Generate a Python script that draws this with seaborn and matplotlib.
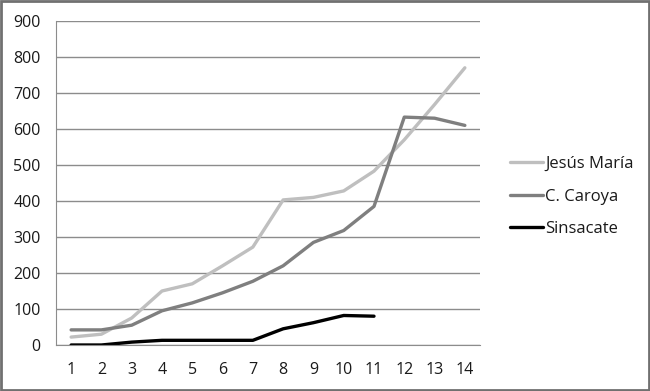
import matplotlib
matplotlib.use("Agg")
import matplotlib.pyplot as plt
import seaborn as sns
import pandas as pd
from matplotlib.patches import Rectangle
from matplotlib.lines import Line2D

periods = list(range(1, 15))
jesus_maria = [22, 30, 75, 150, 170, 220, 272, 403, 410, 428, 483, 570, 668, 770]
c_caroya = [42, 42, 55, 95, 117, 145, 177, 220, 285, 318, 385, 633, 630, 610]
sinsacate = [0, 0, 8, 13, 13, 13, 13, 45, 62, 82, 80]
series_names = ["Jesús María", "C. Caroya", "Sinsacate"]
y_ticks = [0, 100, 200, 300, 400, 500, 600, 700, 800, 900]

rows = []
for name, vals in zip(series_names, [jesus_maria, c_caroya, sinsacate]):
    for p, v in zip(periods, vals):
        rows.append({"x": p, "y": v, "serie": name})
df = pd.DataFrame(rows)

sns.set_style("white")
plt.rcParams['font.family'] = ['Open Sans', 'DejaVu Sans']

fig = plt.figure(figsize=(6.5, 3.91), dpi=100)
ax = fig.add_axes([56/650, 1-345/391, (480-56)/650, (345-21)/391])

palette = {"Jesús María": "#bfbfbf", "C. Caroya": "#7f7f7f", "Sinsacate": "#000000"}
sns.lineplot(data=df, x="x", y="y", hue="serie", palette=palette, linewidth=2.4,
             ax=ax, legend=False, sort=False)

ax.set_xlim(0.5, 14.5)
ax.set_ylim(0, 900)
ax.set_yticks(y_ticks)
ax.set_xticks(periods)
ax.set_xticks([i + 0.5 for i in range(0, 15)], minor=True)
ax.set_xlabel("")
ax.set_ylabel("")
ax.yaxis.grid(True, color="#8c8c8c", linewidth=1.0)
ax.set_axisbelow(True)
for s in ["top", "right"]:
    ax.spines[s].set_visible(False)
ax.spines["left"].set_color("#8c8c8c")
ax.spines["bottom"].set_color("#8c8c8c")
ax.tick_params(axis="y", length=0, labelsize=11.5, pad=11, labelcolor="#1a1a1a")
ax.tick_params(axis="x", which="major", length=0, labelsize=11.5, pad=12, labelcolor="#1a1a1a")
ax.tick_params(axis="x", which="minor", length=6, color="#8c8c8c", direction="out")

handles = [Line2D([0], [0], color=palette[n], linewidth=2.4) for n in series_names]
leg = fig.legend(handles, series_names, loc="upper left", bbox_to_anchor=(495/650, 1-141/391),
                 frameon=False, fontsize=12, handlelength=2.0, handletextpad=0.1,
                 labelspacing=1.0)
for t in leg.get_texts():
    t.set_color("#1a1a1a")

fig.patches.append(Rectangle((0.002, 0.003), 0.996, 0.994, transform=fig.transFigure,
                             fill=False, edgecolor="#707070", linewidth=2))

fig.savefig("out.png", dpi=100)
